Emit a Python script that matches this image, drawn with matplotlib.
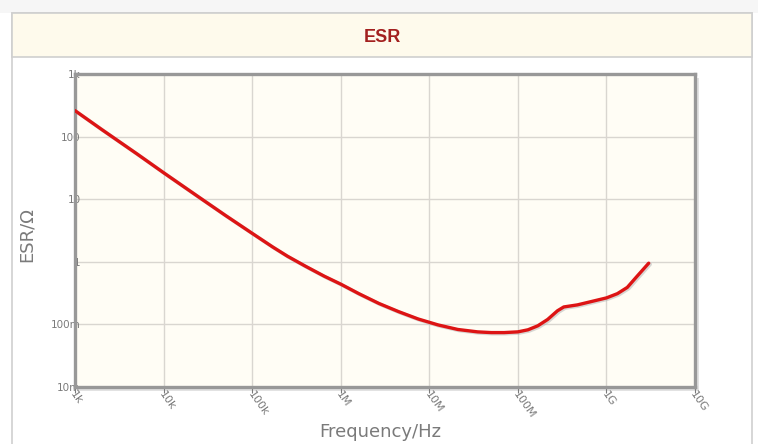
import matplotlib
matplotlib.use("Agg")
import matplotlib.pyplot as plt
from matplotlib.patches import Rectangle
import matplotlib.ticker as mticker

W, H = 758, 444

# данные кривой ESR (с картинки)
freq = [1e3, 2e3, 5e3, 1e4, 2.5e4, 5e4, 1e5, 1.7e5, 2.5e5, 4e5, 6.5e5, 1e6,
        1.6e6, 2.7e6, 4.5e6, 7.5e6, 1.26e7, 2.1e7, 3.5e7, 5e7, 7e7, 1e8,
        1.3e8, 1.68e8, 2.17e8, 2.8e8, 3.3e8, 4.7e8, 6.6e8, 1e9, 1.33e9,
        1.72e9, 2.2e9, 3e9]
esr = [260, 130, 53, 26.5, 10.8, 5.5, 2.85, 1.73, 1.23, 0.85, 0.59, 0.44,
       0.31, 0.216, 0.16, 0.122, 0.098, 0.083, 0.076, 0.074, 0.074, 0.076,
       0.082, 0.095, 0.12, 0.165, 0.19, 0.205, 0.23, 0.265, 0.31,
       0.39, 0.58, 0.95]

x_ticks = [1e3, 1e4, 1e5, 1e6, 1e7, 1e8, 1e9, 1e10]
x_labels = ["1k", "10k", "100k", "1M", "10M", "100M", "1G", "10G"]
y_ticks = [1e-2, 1e-1, 1, 10, 100, 1e3]
y_labels = ["10m", "100m", "1", "10", "100", "1k"]

gray = "#7a7a7a"


def fx(px):
    return px / W


def fy(py):
    return 1 - py / H


fig = plt.figure(figsize=(W / 100, H / 100), dpi=100)
fig.patch.set_facecolor("white")

# фон страницы и карточка
fig.patches.append(Rectangle((0, fy(13)), 1, 1 - fy(13), transform=fig.transFigure,
                             facecolor="#f6f6f6", edgecolor="none", zorder=-5))
fig.patches.append(Rectangle((fx(12), -0.05), fx(752) - fx(12), fy(13) + 0.05,
                             transform=fig.transFigure, facecolor="white",
                             edgecolor="#cfcfcf", linewidth=1.2, zorder=-4))
fig.patches.append(Rectangle((fx(12), fy(57)), fx(752) - fx(12), fy(13) - fy(57),
                             transform=fig.transFigure, facecolor="#fefaec",
                             edgecolor="#cfcfcf", linewidth=1.2, zorder=-3))
fig.text(fx(382), fy(37), "ESR", ha="center", va="center", color="#a3201f",
         fontsize=13, fontweight="bold", family="Liberation Sans")

left, right, top, bottom = 75, 695, 74, 387
ax = fig.add_axes([fx(left), fy(bottom), fx(right) - fx(left), fy(top) - fy(bottom)])
ax.set_facecolor("#fffdf5")

# тень рамки
fig.patches.append(Rectangle((fx(left + 4), fy(bottom + 4)), fx(right) - fx(left),
                             fy(top) - fy(bottom), transform=fig.transFigure,
                             facecolor="#e2e2e2", edgecolor="none", zorder=-2))

ax.set_xscale("log")
ax.set_yscale("log")
ax.set_xlim(1e3, 1e10)
ax.set_ylim(1e-2, 1e3)

# тень линии и сама линия
ax.plot([f * 1.04 for f in freq], [v * 0.96 for v in esr], color="#b0b0b0",
        linewidth=2.6, alpha=0.5, solid_capstyle="round", solid_joinstyle="round",
        zorder=3)
ax.plot(freq, esr, color="#dd1414", linewidth=2.4, solid_capstyle="round",
        solid_joinstyle="round", zorder=4)

ax.xaxis.set_major_locator(mticker.FixedLocator(x_ticks))
ax.yaxis.set_major_locator(mticker.FixedLocator(y_ticks))
ax.xaxis.set_minor_locator(mticker.NullLocator())
ax.yaxis.set_minor_locator(mticker.NullLocator())
ax.set_xticklabels([])
ax.set_yticklabels(y_labels, color=gray, fontsize=7.5)
ax.grid(True, color="#d9d6d0", linewidth=1)
ax.tick_params(axis="y", length=0, pad=-4)
ax.tick_params(axis="x", length=4, color=gray, direction="out")

for t, lab in zip(x_ticks, x_labels):
    ax.text(t * 1.05, 1e-2 * 0.93, lab, rotation=-55, rotation_mode="anchor",
            ha="left", va="top", color=gray, fontsize=8, clip_on=False)

for s in ax.spines.values():
    s.set_color("#989898")
    s.set_linewidth(2.4)

fig.text(fx(380), fy(432), "Frequency/Hz", ha="center", va="center", color=gray,
         fontsize=13)
fig.text(fx(27), fy(235), "ESR/Ω", ha="center", va="center", color=gray,
         fontsize=13, rotation=90)

fig.savefig("out.png", dpi=100)
